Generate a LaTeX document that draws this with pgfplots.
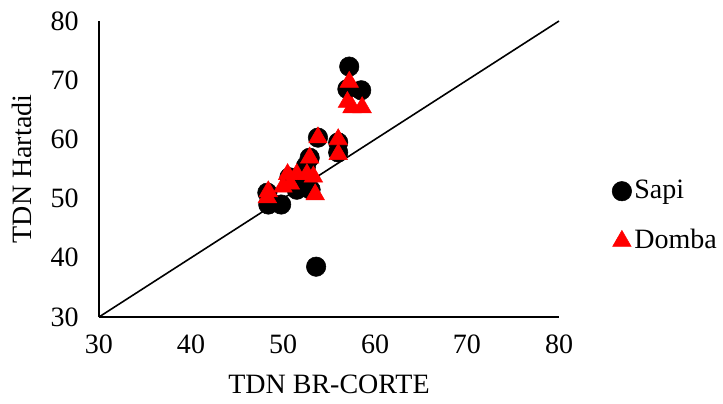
\documentclass[border=0pt]{standalone}
\usepackage{pgfplots}
\pgfplotsset{compat=1.18}
\usepackage{fontspec}
\setmainfont{Liberation Serif}
\begin{document}
\fontsize{21pt}{25pt}\selectfont
\begin{tikzpicture}
\begin{axis}[
  scale only axis,
  width=345pt, height=222pt,
  xmin=30, xmax=80, ymin=30, ymax=80,
  xtick={30,40,...,80}, ytick={30,40,...,80},
  axis x line*=bottom, axis y line*=left,
  axis line style={black, line width=1.2pt, -},
  major tick length=0pt,
  tick label style={font=\fontsize{21pt}{25pt}\selectfont},
  /pgf/number format/assume math mode=true,
  xticklabel style={yshift=-6pt},
  yticklabel style={xshift=-8pt},
  label style={font=\fontsize{21pt}{25pt}\selectfont},
  xlabel={TDN BR-CORTE},
  ylabel={TDN Hartadi},
  xlabel style={yshift=-2pt},
  ylabel style={yshift=0pt},
  legend style={draw=none, fill=none, at={(1.115,0.34)}, anchor=west,
    font=\fontsize{21pt}{25pt}\selectfont, row sep=16pt, inner sep=0pt},
  legend cell align=left,
  legend image code/.code={\draw[#1] plot coordinates {(0.2cm,0cm)};},
  clip=false,
]
\addplot[black, line width=1.2pt, forget plot] coordinates {(30,30) (80,80)};
\addplot[only marks, mark=*, mark size=7.3pt, black] coordinates {
(48.3,51.0) (48.4,49.0) (49.8,49.0) (50.7,53.6) (51.5,51.5) (52.3,53.8)
(53.0,51.5) (52.5,55.5) (52.9,56.9) (53.8,60.3) (56.0,59.5) (56.0,57.8)
(57.2,72.3) (57.0,68.5) (58.5,68.3) (53.6,38.5)
};
\addlegendentry{Sapi}
\addplot[only marks, mark=triangle*, mark size=8pt, red, mark options={fill=red, draw=red}] coordinates {
(48.4,51.2) (48.3,50.2) (50.0,52.0) (50.8,52.5) (50.5,54.1) (51.5,54.1)
(52.6,54.1) (53.3,53.7) (53.5,50.7) (52.9,56.9) (53.8,60.3) (56.0,60.0)
(56.0,57.5) (57.2,69.7) (57.0,66.3) (57.5,65.4) (58.6,65.4)
};
\addlegendentry{Domba}
\end{axis}
\pgfresetboundingbox
\useasboundingbox (-74.25pt,-64.5pt) rectangle (468pt,237.75pt);
\end{tikzpicture}
\end{document}
